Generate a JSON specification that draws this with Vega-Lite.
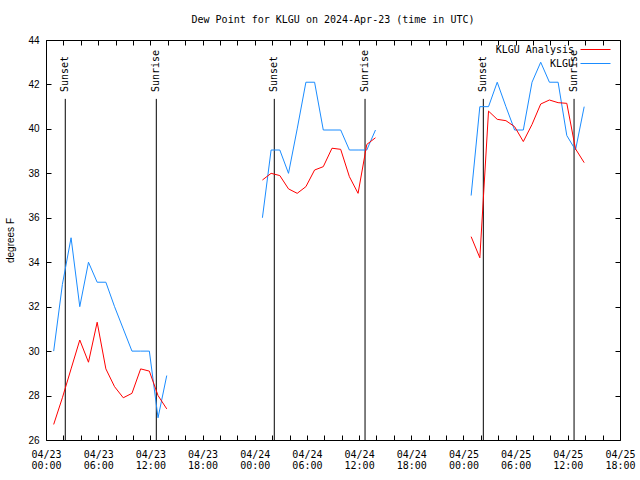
{
  "$schema": "https://vega.github.io/schema/vega-lite/v6.json",
  "width": 574,
  "height": 400,
  "autosize": "none",
  "padding": {"left": 46, "top": 40, "right": 20, "bottom": 40},
  "background": "white",
  "title": {
    "text": "Dew Point for KLGU on 2024-Apr-23 (time in UTC)",
    "font": "DejaVu Sans Mono",
    "fontSize": 10,
    "fontWeight": "normal",
    "color": "black",
    "baseline": "bottom",
    "offset": 0
  },
  "config": {
    "view": {"stroke": "black", "strokeWidth": 1},
    "axis": {"domain": false, "tickColor": "black", "labelColor": "black", "grid": false, "offset": -5, "tickSize": 5, "tickWidth": 1, "minExtent": 0}
  },
  "datasets": {
    "dew": [
      {"t": "2024-04-23T00:53:00Z", "series": "KLGU", "v": 30.0},
      {"t": "2024-04-23T01:53:00Z", "series": "KLGU", "v": 33.0},
      {"t": "2024-04-23T02:53:00Z", "series": "KLGU", "v": 35.1},
      {"t": "2024-04-23T03:53:00Z", "series": "KLGU", "v": 32.0},
      {"t": "2024-04-23T04:53:00Z", "series": "KLGU", "v": 34.0},
      {"t": "2024-04-23T05:53:00Z", "series": "KLGU", "v": 33.1},
      {"t": "2024-04-23T06:53:00Z", "series": "KLGU", "v": 33.1},
      {"t": "2024-04-23T07:53:00Z", "series": "KLGU", "v": 32.0},
      {"t": "2024-04-23T08:53:00Z", "series": "KLGU", "v": 31.0},
      {"t": "2024-04-23T09:53:00Z", "series": "KLGU", "v": 30.0},
      {"t": "2024-04-23T10:53:00Z", "series": "KLGU", "v": 30.0},
      {"t": "2024-04-23T11:53:00Z", "series": "KLGU", "v": 30.0},
      {"t": "2024-04-23T12:53:00Z", "series": "KLGU", "v": 27.0},
      {"t": "2024-04-23T13:53:00Z", "series": "KLGU", "v": 28.9},
      {"t": "2024-04-24T00:53:00Z", "series": "KLGU", "v": 36.0},
      {"t": "2024-04-24T01:53:00Z", "series": "KLGU", "v": 39.05},
      {"t": "2024-04-24T02:53:00Z", "series": "KLGU", "v": 39.05},
      {"t": "2024-04-24T03:53:00Z", "series": "KLGU", "v": 38.0},
      {"t": "2024-04-24T04:53:00Z", "series": "KLGU", "v": 40.0},
      {"t": "2024-04-24T05:53:00Z", "series": "KLGU", "v": 42.1},
      {"t": "2024-04-24T06:53:00Z", "series": "KLGU", "v": 42.1},
      {"t": "2024-04-24T07:53:00Z", "series": "KLGU", "v": 39.95},
      {"t": "2024-04-24T08:53:00Z", "series": "KLGU", "v": 39.95},
      {"t": "2024-04-24T09:53:00Z", "series": "KLGU", "v": 39.95},
      {"t": "2024-04-24T10:53:00Z", "series": "KLGU", "v": 39.05},
      {"t": "2024-04-24T11:53:00Z", "series": "KLGU", "v": 39.05},
      {"t": "2024-04-24T12:53:00Z", "series": "KLGU", "v": 39.05},
      {"t": "2024-04-24T13:53:00Z", "series": "KLGU", "v": 39.95},
      {"t": "2024-04-25T00:53:00Z", "series": "KLGU", "v": 37.0},
      {"t": "2024-04-25T01:53:00Z", "series": "KLGU", "v": 41.0},
      {"t": "2024-04-25T02:53:00Z", "series": "KLGU", "v": 41.0},
      {"t": "2024-04-25T03:53:00Z", "series": "KLGU", "v": 42.1},
      {"t": "2024-04-25T04:53:00Z", "series": "KLGU", "v": 41.0},
      {"t": "2024-04-25T05:53:00Z", "series": "KLGU", "v": 39.95},
      {"t": "2024-04-25T06:53:00Z", "series": "KLGU", "v": 39.95},
      {"t": "2024-04-25T07:53:00Z", "series": "KLGU", "v": 42.1},
      {"t": "2024-04-25T08:53:00Z", "series": "KLGU", "v": 43.0},
      {"t": "2024-04-25T09:53:00Z", "series": "KLGU", "v": 42.1},
      {"t": "2024-04-25T10:53:00Z", "series": "KLGU", "v": 42.1},
      {"t": "2024-04-25T11:53:00Z", "series": "KLGU", "v": 39.7},
      {"t": "2024-04-25T12:53:00Z", "series": "KLGU", "v": 39.05},
      {"t": "2024-04-25T13:53:00Z", "series": "KLGU", "v": 41.0},
      {"t": "2024-04-23T00:53:00Z", "series": "KLGU Analysis", "v": 26.7},
      {"t": "2024-04-23T01:53:00Z", "series": "KLGU Analysis", "v": 27.9},
      {"t": "2024-04-23T02:53:00Z", "series": "KLGU Analysis", "v": 29.2},
      {"t": "2024-04-23T03:53:00Z", "series": "KLGU Analysis", "v": 30.5},
      {"t": "2024-04-23T04:53:00Z", "series": "KLGU Analysis", "v": 29.5},
      {"t": "2024-04-23T05:53:00Z", "series": "KLGU Analysis", "v": 31.3},
      {"t": "2024-04-23T06:53:00Z", "series": "KLGU Analysis", "v": 29.2},
      {"t": "2024-04-23T07:53:00Z", "series": "KLGU Analysis", "v": 28.4},
      {"t": "2024-04-23T08:53:00Z", "series": "KLGU Analysis", "v": 27.9},
      {"t": "2024-04-23T09:53:00Z", "series": "KLGU Analysis", "v": 28.1},
      {"t": "2024-04-23T10:53:00Z", "series": "KLGU Analysis", "v": 29.2},
      {"t": "2024-04-23T11:53:00Z", "series": "KLGU Analysis", "v": 29.1},
      {"t": "2024-04-23T12:53:00Z", "series": "KLGU Analysis", "v": 28.0},
      {"t": "2024-04-23T13:53:00Z", "series": "KLGU Analysis", "v": 27.4},
      {"t": "2024-04-24T00:53:00Z", "series": "KLGU Analysis", "v": 37.7},
      {"t": "2024-04-24T01:53:00Z", "series": "KLGU Analysis", "v": 38.0},
      {"t": "2024-04-24T02:53:00Z", "series": "KLGU Analysis", "v": 37.9},
      {"t": "2024-04-24T03:53:00Z", "series": "KLGU Analysis", "v": 37.3},
      {"t": "2024-04-24T04:53:00Z", "series": "KLGU Analysis", "v": 37.1},
      {"t": "2024-04-24T05:53:00Z", "series": "KLGU Analysis", "v": 37.4},
      {"t": "2024-04-24T06:53:00Z", "series": "KLGU Analysis", "v": 38.15},
      {"t": "2024-04-24T07:53:00Z", "series": "KLGU Analysis", "v": 38.3},
      {"t": "2024-04-24T08:53:00Z", "series": "KLGU Analysis", "v": 39.13},
      {"t": "2024-04-24T09:53:00Z", "series": "KLGU Analysis", "v": 39.08},
      {"t": "2024-04-24T10:53:00Z", "series": "KLGU Analysis", "v": 37.85},
      {"t": "2024-04-24T11:53:00Z", "series": "KLGU Analysis", "v": 37.1},
      {"t": "2024-04-24T12:53:00Z", "series": "KLGU Analysis", "v": 39.3},
      {"t": "2024-04-24T13:53:00Z", "series": "KLGU Analysis", "v": 39.6},
      {"t": "2024-04-25T00:53:00Z", "series": "KLGU Analysis", "v": 35.15},
      {"t": "2024-04-25T01:53:00Z", "series": "KLGU Analysis", "v": 34.2},
      {"t": "2024-04-25T02:53:00Z", "series": "KLGU Analysis", "v": 40.8},
      {"t": "2024-04-25T03:53:00Z", "series": "KLGU Analysis", "v": 40.43},
      {"t": "2024-04-25T04:53:00Z", "series": "KLGU Analysis", "v": 40.37},
      {"t": "2024-04-25T05:53:00Z", "series": "KLGU Analysis", "v": 40.1},
      {"t": "2024-04-25T06:53:00Z", "series": "KLGU Analysis", "v": 39.43},
      {"t": "2024-04-25T07:53:00Z", "series": "KLGU Analysis", "v": 40.2},
      {"t": "2024-04-25T08:53:00Z", "series": "KLGU Analysis", "v": 41.12},
      {"t": "2024-04-25T09:53:00Z", "series": "KLGU Analysis", "v": 41.3},
      {"t": "2024-04-25T10:53:00Z", "series": "KLGU Analysis", "v": 41.18},
      {"t": "2024-04-25T11:53:00Z", "series": "KLGU Analysis", "v": 41.15},
      {"t": "2024-04-25T12:53:00Z", "series": "KLGU Analysis", "v": 39.1},
      {"t": "2024-04-25T13:53:00Z", "series": "KLGU Analysis", "v": 38.48}
    ],
    "sun": [
      {"t": "2024-04-23T02:13:00Z", "label": "Sunset"},
      {"t": "2024-04-23T12:41:00Z", "label": "Sunrise"},
      {"t": "2024-04-24T02:15:00Z", "label": "Sunset"},
      {"t": "2024-04-24T12:41:00Z", "label": "Sunrise"},
      {"t": "2024-04-25T02:17:00Z", "label": "Sunset"},
      {"t": "2024-04-25T12:43:00Z", "label": "Sunrise"}
    ]
  },
  "layer": [
    {
      "data": {"name": "sun"},
      "mark": {"type": "rule", "color": "black", "strokeWidth": 1},
      "encoding": {
        "x": {
          "field": "t", "type": "temporal",
          "scale": {"type": "utc", "domain": [1713830400000, 1714068000000]},
          "axis": {"orient": "top", "labels": false, "title": null,
            "values": [1713830400000, 1713837600000, 1713844800000, 1713852000000, 1713859200000, 1713866400000, 1713873600000, 1713880800000, 1713888000000, 1713895200000, 1713902400000, 1713909600000, 1713916800000, 1713924000000, 1713931200000, 1713938400000, 1713945600000, 1713952800000, 1713960000000, 1713967200000, 1713974400000, 1713981600000, 1713988800000, 1713996000000, 1714003200000, 1714010400000, 1714017600000, 1714024800000, 1714032000000, 1714039200000, 1714046400000, 1714053600000, 1714060800000, 1714068000000]}
        },
        "y": {
          "datum": 26, "type": "quantitative",
          "scale": {"domain": [26, 44], "nice": false, "zero": false},
          "axis": {"orient": "right", "labels": false, "title": null, "values": [26, 28, 30, 32, 34, 36, 38, 40, 42, 44]}
        },
        "y2": {"datum": 41.35}
      }
    },
    {
      "data": {"name": "sun"},
      "mark": {"type": "text", "angle": 270, "align": "left", "baseline": "middle", "font": "DejaVu Sans Mono", "fontSize": 10, "color": "black"},
      "encoding": {
        "x": {"field": "t", "type": "temporal", "scale": {"type": "utc", "domain": [1713830400000, 1714068000000]}, "axis": null},
        "y": {"datum": 41.66, "type": "quantitative", "scale": {"domain": [26, 44], "nice": false, "zero": false}, "axis": null},
        "text": {"field": "label", "type": "nominal"}
      }
    },
    {
      "data": {"name": "dew"},
      "mark": {"type": "line", "strokeWidth": 1},
      "encoding": {
        "x": {
          "field": "t", "type": "temporal",
          "scale": {"type": "utc", "domain": [1713830400000, 1714068000000]},
          "axis": {
            "orient": "bottom", "title": null,
            "values": [1713830400000, 1713837600000, 1713844800000, 1713852000000, 1713859200000, 1713866400000, 1713873600000, 1713880800000, 1713888000000, 1713895200000, 1713902400000, 1713909600000, 1713916800000, 1713924000000, 1713931200000, 1713938400000, 1713945600000, 1713952800000, 1713960000000, 1713967200000, 1713974400000, 1713981600000, 1713988800000, 1713996000000, 1714003200000, 1714010400000, 1714017600000, 1714024800000, 1714032000000, 1714039200000, 1714046400000, 1714053600000, 1714060800000, 1714068000000],
            "labelExpr": "utchours(datum.value) % 6 == 0 ? [utcFormat(datum.value, '%m/%d'), utcFormat(datum.value, '%H:%M')] : ''",
            "labelFont": "DejaVu Sans Mono", "labelFontSize": 10,
            "labelPadding": 9, "labelOverlap": false, "labelFlush": false,
            "labelLineHeight": 11, "labelBaseline": "top"
          }
        },
        "y": {
          "field": "v", "type": "quantitative",
          "scale": {"domain": [26, 44], "nice": false, "zero": false},
          "axis": {
            "orient": "left",
            "values": [26, 28, 30, 32, 34, 36, 38, 40, 42, 44],
            "labelFont": "Liberation Sans", "labelFontSize": 10, "labelPadding": 7,
            "title": "degrees F", "titleFont": "Liberation Sans", "titleFontSize": 10,
            "titleFontWeight": "normal", "titleColor": "black", "titlePadding": 12
          }
        },
        "color": {
          "field": "series", "type": "nominal",
          "scale": {"domain": ["KLGU Analysis", "KLGU"], "range": ["#ff0000", "#1a8cff"]},
          "legend": {
            "orient": "none", "legendX": 544, "legendY": 4, "direction": "vertical",
            "title": null, "padding": 0,
            "symbolType": "M-3,0H3", "symbolStrokeWidth": 1,
            "labelAlign": "right", "labelOffset": -27,
            "labelFont": "DejaVu Sans Mono", "labelFontSize": 10, "labelColor": "black",
            "rowPadding": 3
          }
        },
        "detail": {"field": "t", "timeUnit": "utcdate", "type": "ordinal"}
      }
    }
  ],
  "resolve": {"axis": {"x": "independent", "y": "independent"}}
}
